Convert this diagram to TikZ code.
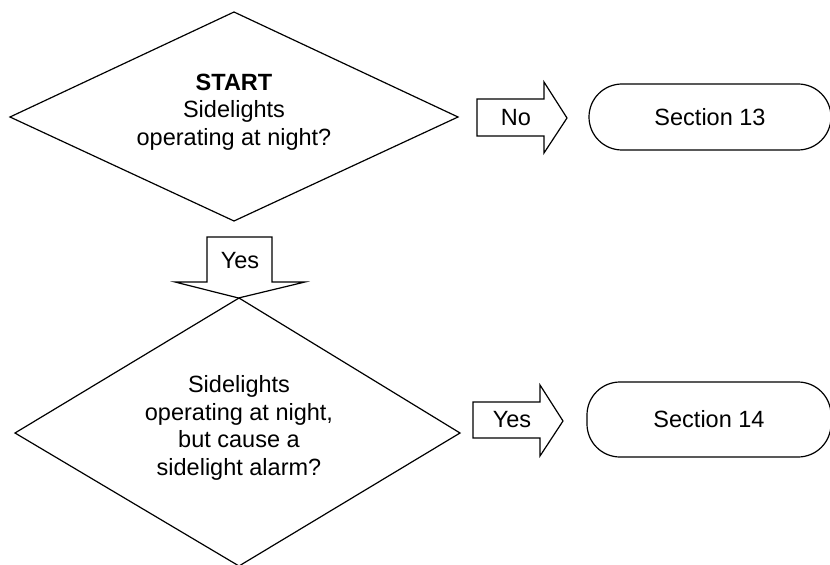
\documentclass[tikz,border=0pt]{standalone}
\usepackage{fontspec}
\setmainfont{Liberation Sans}
\begin{document}
\begin{tikzpicture}[x=1bp,y=-1bp,
  every node/.style={font=\fontsize{23.5bp}{27.5bp}\selectfont, inner sep=0pt},
  shp/.style={draw=black, line width=1.2bp, line join=miter},
  terminal/.style={shp, rectangle, rounded corners=33bp},
  lbl/.style={anchor=center, align=center}]
\useasboundingbox (0,0) rectangle (830,565);
% decisions
\draw[shp] (234,12) -- (458,117) -- (234,221) -- (10,117) -- cycle;
\node[lbl] (d1) at (234,112) {\textbf{START}\\Sidelights\\operating at night?};
\draw[shp] (239,298) -- (460,433) -- (239,566) -- (15,433) -- cycle;
\node[lbl] (d2) at (239,428) {Sidelights\\operating at night,\\but cause a\\sidelight alarm?};
% terminals
\node[terminal, minimum width=242bp, minimum height=66bp] (s13) at (710,117) {Section 13};
\node[terminal, minimum width=244bp, minimum height=75bp] (s14) at (709,419.5) {Section 14};
% block arrows
\draw[shp] (477,99) -- (544,99) -- (544,82) -- (567,118) -- (544,153) -- (544,136) -- (477,136) -- cycle;
\node[lbl] (no) at (516,118) {No};
\draw[shp] (473,402) -- (540,402) -- (540,385) -- (563,421) -- (540,456) -- (540,438) -- (473,438) -- cycle;
\node[lbl] (yes2) at (512,420) {Yes};
\draw[shp] (207,237) -- (272,237) -- (272,282) -- (305,282) -- (238.5,298) -- (175,282) -- (207,282) -- cycle;
\node[lbl] (yes1) at (240,261) {Yes};
\end{tikzpicture}
\end{document}
